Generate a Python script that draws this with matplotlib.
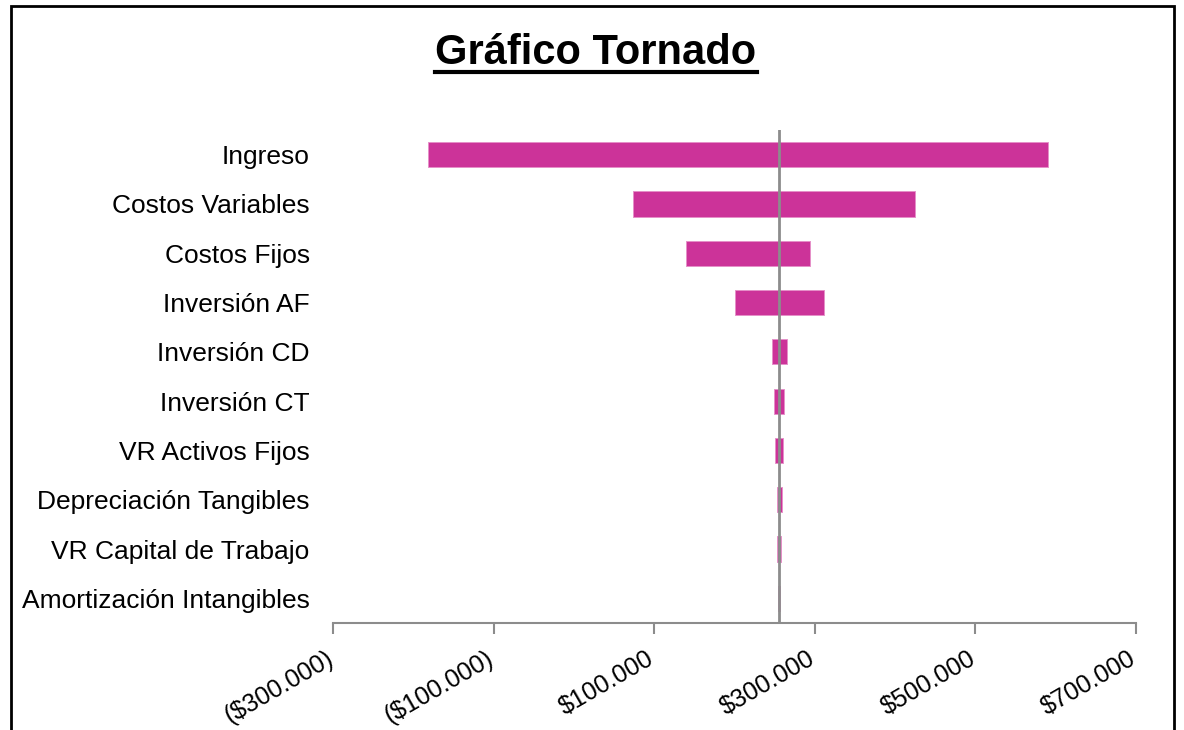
import matplotlib
matplotlib.use("Agg")
import matplotlib.pyplot as plt
import matplotlib.transforms as mtransforms
from matplotlib.ticker import FuncFormatter, FixedLocator
from matplotlib.patches import Rectangle
from matplotlib.lines import Line2D

plt.rcParams['font.family'] = ['Liberation Sans', 'DejaVu Sans']

# Sensitivity variables (top to bottom) and resulting low / high values
variables = [
    "Ingreso",
    "Costos Variables",
    "Costos Fijos",
    "Inversión AF",
    "Inversión CD",
    "Inversión CT",
    "VR Activos Fijos",
    "Depreciación Tangibles",
    "VR Capital de Trabajo",
    "Amortización Intangibles",
]
low_values = [-181700, 73500, 139700, 200400, 246500, 248600, 250300, 252800, 253100, 254000]
high_values = [590800, 424700, 294200, 310900, 264800, 261500, 260600, 258600, 257700, 256500]
base_value = 255600
tick_values = [-300000, -100000, 100000, 300000, 500000, 700000]

bar_color = "#CC3399"
edge_color = "#E590C8"
grey = "#8C8C8C"


def money(v, pos=None):
    s = f"{abs(v):,.0f}".replace(",", ".")
    return f"(${s})" if v < 0 else f"${s}"


fig = plt.figure(figsize=(11.84, 7.30), dpi=100)
ax = fig.add_axes([333.3 / 1184, 1 - 623 / 730, (1136 - 333.3) / 1184, (623 - 130) / 730])

ypos = list(range(len(variables)))
widths = [h - l for l, h in zip(low_values, high_values)]
ax.barh(ypos, widths, left=low_values, height=0.51, color=bar_color,
        edgecolor=edge_color, linewidth=0.7, zorder=2)
ax.axvline(base_value, color=grey, linewidth=2.0, zorder=3)

ax.set_xlim(tick_values[0], tick_values[-1])
ax.set_ylim(len(variables) - 0.5, -0.5)
ax.set_yticks(ypos)
ax.set_yticklabels(variables, fontsize=19)
ax.tick_params(axis='y', length=0, pad=17)

ax.xaxis.set_major_locator(FixedLocator(tick_values))
ax.xaxis.set_major_formatter(FuncFormatter(money))
ax.tick_params(axis='x', direction='out', length=8, width=1.5, color=grey,
               labelsize=18, pad=6)
shift = mtransforms.ScaledTranslation(-0.08, -0.04, fig.dpi_scale_trans)
for lbl in ax.get_xticklabels():
    lbl.set_rotation(30)
    lbl.set_ha('right')
    lbl.set_rotation_mode('anchor')
    lbl.set_transform(lbl.get_transform() + shift)

for side in ('left', 'right', 'top'):
    ax.spines[side].set_visible(False)
ax.spines['bottom'].set_color(grey)
ax.spines['bottom'].set_linewidth(1.5)

# Chart frame
fig.add_artist(Rectangle((10.5 / 1184, -0.1), (1174 - 10.5) / 1184, 1.1 - 6 / 730,
                         transform=fig.transFigure, fill=False,
                         edgecolor='black', linewidth=2.0))

# Underlined title
title = fig.text(596 / 1184, 1 - 53 / 730, "Gráfico Tornado", ha='center', va='center',
                 fontsize=30, fontweight='bold')
fig.canvas.draw()
bb = title.get_window_extent(renderer=fig.canvas.get_renderer())
inv = fig.transFigure.inverted()
(x0, y0), (x1, y1) = inv.transform([[bb.x0, bb.y0], [bb.x1, bb.y0]])
fig.add_artist(Line2D([x0, x1], [y0 + 1 / 730, y0 + 1 / 730], transform=fig.transFigure,
                      color='black', linewidth=3.0))

fig.savefig("out.png", dpi=100, facecolor='white')
